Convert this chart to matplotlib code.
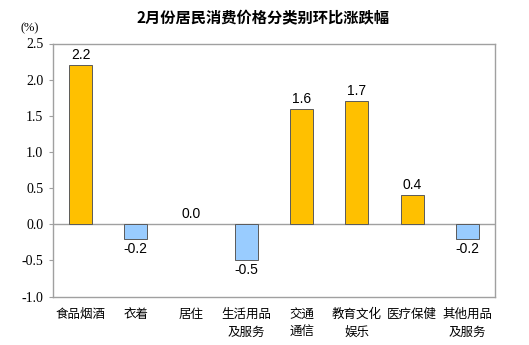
import matplotlib
matplotlib.use("Agg")
import matplotlib.pyplot as plt
import numpy as np

# 2月份各类居民消费价格环比涨跌幅
categories = ["食品烟酒", "衣着", "居住", "生活用品\n及服务", "交通\n通信", "教育文化\n娱乐", "医疗保健", "其他用品\n及服务"]
values = [2.2, -0.2, 0.0, -0.5, 1.6, 1.7, 0.4, -0.2]
yticks = [-1.0, -0.5, 0.0, 0.5, 1.0, 1.5, 2.0, 2.5]

cjk = ["Noto Sans CJK SC", "DejaVu Sans"]

fig = plt.figure(figsize=(5.29, 3.45), dpi=100)
ax = fig.add_axes([53 / 529, 1 - 296.5 / 345, 442 / 529, 253 / 345])

x = np.arange(len(values))
colors = ["#FFC000" if v >= 0 else "#99CCFF" for v in values]
edges = ["none" if v == 0 else "#5a5a5a" for v in values]
ax.bar(x, values, width=0.42, color=colors, edgecolor=edges, linewidth=0.7, zorder=3)
ax.axhline(0, color="#a0a0a0", linewidth=1.0, zorder=2)

for xi, v in zip(x, values):
    if v >= 0:
        ax.text(xi, v + 0.04, f"{v:.1f}", ha="center", va="bottom",
                fontsize=10, family="Liberation Sans")
    else:
        ax.text(xi, v - 0.04, f"{v:.1f}", ha="center", va="top",
                fontsize=10, family="Liberation Sans")

ax.set_xlim(-0.5, len(values) - 0.5)
ax.set_ylim(-1.0, 2.5)
ax.set_yticks(yticks)
ax.set_yticklabels([f"{t:.1f}" for t in yticks])
for lab in ax.get_yticklabels():
    lab.set_fontfamily("Liberation Serif")
    lab.set_fontsize(10)
ax.set_xticks(x)
ax.set_xticklabels(categories, family=cjk, fontsize=9, linespacing=1.5, va="top")
ax.tick_params(axis="x", length=0, pad=8)
ax.tick_params(axis="y", length=3, color="#a0a0a0", pad=4)
for s in ax.spines.values():
    s.set_color("#a0a0a0")
    s.set_linewidth(1.0)

fig.text(30 / 529, 1 - 28 / 345, "(%)", ha="center", va="center",
         family="Liberation Serif", fontsize=9)
fig.text(263 / 529, 1 - 18 / 345, "2月份居民消费价格分类别环比涨跌幅", ha="center", va="center",
         family=cjk, fontsize=11, fontweight="bold")

fig.savefig("out.png", dpi=100)
